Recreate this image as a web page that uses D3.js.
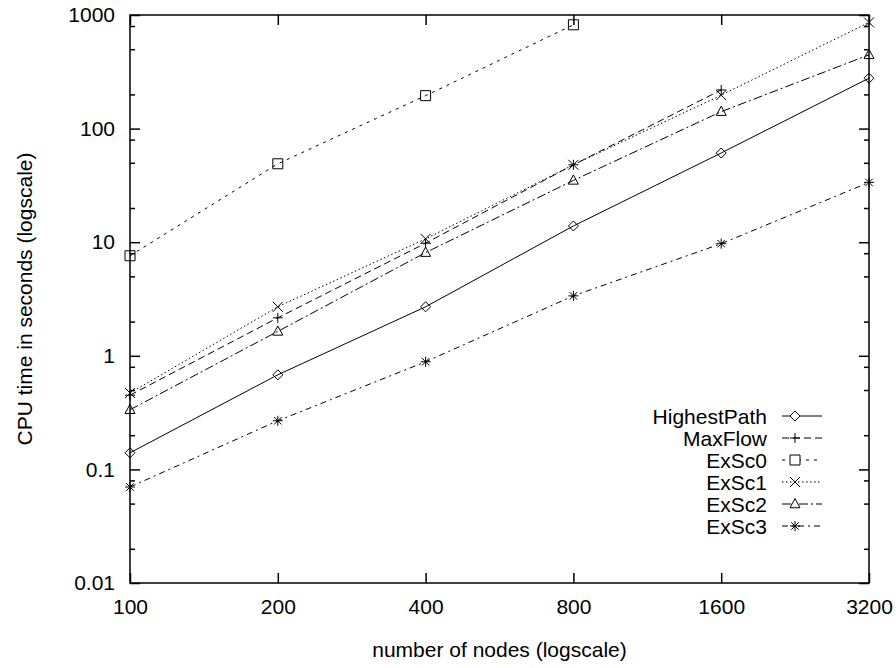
<!DOCTYPE html>
<html>
<head>
<meta charset="utf-8">
<title>CPU time vs number of nodes</title>
<script src="https://d3js.org/d3.v7.min.js"></script>
<style>
  body { margin: 0; background: #fff; }
  text { font-family: "Liberation Sans", Arial, sans-serif; fill: #000; }
</style>
</head>
<body>
<div id="container"></div>
<script>
// Data
const nodes = [100, 200, 400, 800, 1600, 3200]
const highestPath = [0.14, 0.68, 2.7, 13.9, 61, 278]
const maxFlow = [0.45, 2.16, 9.8, 48, 219]
const exSc0 = [7.6, 49, 195, 820]
const exSc1 = [0.47, 2.7, 10.7, 48, 197, 860]
const exSc2 = [0.335, 1.64, 8.1, 35, 141, 446]
const exSc3 = [0.07, 0.268, 0.886, 3.37, 9.7, 33.6]
const yTicks = [0.01, 0.1, 1, 10, 100, 1000]

const series = [
  { name: "HighestPath", values: highestPath, dash: null, marker: "diamond" },
  { name: "MaxFlow", values: maxFlow, dash: "7,4", marker: "plus" },
  { name: "ExSc0", values: exSc0, dash: "3,5", marker: "square" },
  { name: "ExSc1", values: exSc1, dash: "1.5,2.5", marker: "cross" },
  { name: "ExSc2", values: exSc2, dash: "9,3,2,3", marker: "triangle" },
  { name: "ExSc3", values: exSc3, dash: "6,4,2,4", marker: "star" }
]

const w = 896
const h = 668
const margin = { left: 130, right: 27, top: 15, bottom: 85 }
const fontSize = 21

const xScale = d3.scaleLog().domain([100, 3200]).range([margin.left, w - margin.right])
const yScale = d3.scaleLog().domain([0.01, 1000]).range([h - margin.bottom, margin.top])

const svg = d3.select("#container").append("svg")
  .attr("width", w)
  .attr("height", h)

// minor y ticks at 2, 5, 8 of each decade
const yMinor = []
yTicks.slice(0, -1).forEach(t => [2, 5, 8].forEach(m => yMinor.push(t * m)))

const tickFmt = d => d3.format("~g")(d)

// Axes (ticks inward, on both sides)
const yLeft = d3.axisLeft(yScale).tickValues(yTicks).tickFormat(tickFmt).tickSizeInner(-10).tickSizeOuter(0).tickPadding(15)
const yLeftMinor = d3.axisLeft(yScale).tickValues(yMinor).tickFormat("").tickSizeInner(-5).tickSizeOuter(0)
const yRight = d3.axisRight(yScale).tickValues(yTicks).tickFormat("").tickSizeInner(-10).tickSizeOuter(0)
const yRightMinor = d3.axisRight(yScale).tickValues(yMinor).tickFormat("").tickSizeInner(-5).tickSizeOuter(0)
const xBottom = d3.axisBottom(xScale).tickValues(nodes).tickFormat(d => d).tickSizeInner(-10).tickSizeOuter(0).tickPadding(16)
const xTop = d3.axisTop(xScale).tickValues(nodes).tickFormat("").tickSizeInner(-10).tickSizeOuter(0)

const addAxis = (axis, tx, ty) => {
  const g = svg.append("g").attr("transform", `translate(${tx},${ty})`).call(axis)
  g.select(".domain").remove()
  g.selectAll("line").attr("stroke", "#000").attr("stroke-width", 1.5)
  g.selectAll("text").attr("font-size", fontSize).attr("fill", "#000")
  return g
}
addAxis(yLeft, margin.left, 0)
addAxis(yLeftMinor, margin.left, 0)
addAxis(yRight, w - margin.right, 0)
addAxis(yRightMinor, w - margin.right, 0)
addAxis(xBottom, 0, h - margin.bottom)
addAxis(xTop, 0, margin.top)

// Lines
const line = d3.line()
  .x((d, i) => xScale(nodes[i]))
  .y(d => yScale(d))

const markerPath = (type, s) => {
  switch (type) {
    case "diamond": return `M0,${-s}L${s},0L0,${s}L${-s},0Z`
    case "plus": return `M${-s},0H${s}M0,${-s}V${s}`
    case "square": return `M${-s},${-s}H${s}V${s}H${-s}Z`
    case "cross": return `M${-s},${-s}L${s},${s}M${-s},${s}L${s},${-s}`
    case "triangle": return `M0,${-s * 1.1}L${s},${s * 0.75}L${-s},${s * 0.75}Z`
    case "star": return `M${-s},0H${s}M0,${-s}V${s}M${-s * 0.75},${-s * 0.75}L${s * 0.75},${s * 0.75}M${-s * 0.75},${s * 0.75}L${s * 0.75},${-s * 0.75}`
  }
}

series.forEach(s => {
  svg.append("path")
    .datum(s.values)
    .attr("d", line)
    .attr("fill", "none")
    .attr("stroke", "#000")
    .attr("stroke-width", 1)
    .attr("stroke-dasharray", s.dash)

  svg.selectAll(null)
    .data(s.values)
    .enter()
    .append("path")
    .attr("transform", (d, i) => `translate(${xScale(nodes[i])},${yScale(d)})`)
    .attr("d", markerPath(s.marker, 5))
    .attr("fill", "none")
    .attr("stroke", "#000")
    .attr("stroke-width", 1)
})

// Frame
svg.append("rect")
  .attr("x", margin.left)
  .attr("y", margin.top)
  .attr("width", w - margin.left - margin.right)
  .attr("height", h - margin.top - margin.bottom)
  .attr("fill", "none")
  .attr("stroke", "#000")
  .attr("stroke-width", 1.5)

// Legend
const legend = svg.append("g")
series.forEach((s, i) => {
  const y = 416 + i * 22
  legend.append("text")
    .attr("x", 767)
    .attr("y", y)
    .attr("dy", "0.36em")
    .attr("text-anchor", "end")
    .attr("font-size", fontSize)
    .text(s.name)
  legend.append("line")
    .attr("x1", 782).attr("x2", 822)
    .attr("y1", y).attr("y2", y)
    .attr("stroke", "#000")
    .attr("stroke-width", 1)
    .attr("stroke-dasharray", s.dash)
  legend.append("path")
    .attr("transform", `translate(795,${y})`)
    .attr("d", markerPath(s.marker, 5))
    .attr("fill", "#fff")
    .attr("stroke", "#000")
    .attr("stroke-width", 1)
})

// Axis labels
svg.append("text")
  .attr("x", (margin.left + w - margin.right) / 2)
  .attr("y", 657)
  .attr("text-anchor", "middle")
  .attr("font-size", fontSize)
  .text("number of nodes (logscale)")

svg.append("text")
  .attr("transform", `translate(24,${(margin.top + h - margin.bottom) / 2}) rotate(-90)`)
  .attr("dy", "0.36em")
  .attr("text-anchor", "middle")
  .attr("font-size", fontSize)
  .text("CPU time in seconds (logscale)")
</script>
</body>
</html>
